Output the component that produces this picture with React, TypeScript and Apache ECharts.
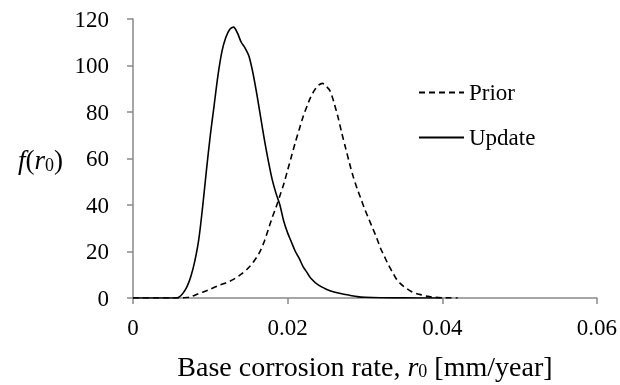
import React, { useEffect, useRef } from "react";
import * as echarts from "echarts";

const xTicks = [0, 0.02, 0.04, 0.06];
const yTicks = [0, 20, 40, 60, 80, 100, 120];

const updateX = [0, 0.0055, 0.006, 0.0065, 0.007, 0.0075, 0.008, 0.0085, 0.009, 0.0095, 0.01, 0.0105, 0.011, 0.0115, 0.012, 0.0125, 0.013, 0.0135, 0.014, 0.0145, 0.015, 0.0155, 0.016, 0.0165, 0.017, 0.0175, 0.018, 0.0185, 0.019, 0.0195, 0.02, 0.0205, 0.021, 0.0215, 0.022, 0.0225, 0.023, 0.024, 0.025, 0.026, 0.027, 0.028, 0.029, 0.03, 0.032, 0.035, 0.04];
const updateY = [0, 0, 0.5, 2.2, 5, 9.5, 16, 25, 39, 55, 70, 83, 96, 106, 112, 115.5, 116.5, 114, 110, 107.5, 104, 97, 88, 78, 68, 59, 51, 45, 40, 33, 28, 24, 20, 17, 13.5, 11, 8.5, 5.5, 3.8, 2.6, 1.8, 1.2, 0.6, 0.3, 0.1, 0.05, 0];

const priorX = [0, 0.006, 0.007, 0.0075, 0.008, 0.009, 0.01, 0.011, 0.012, 0.013, 0.014, 0.015, 0.016, 0.0165, 0.017, 0.0175, 0.018, 0.0185, 0.019, 0.0195, 0.02, 0.0205, 0.021, 0.0215, 0.022, 0.0225, 0.023, 0.0235, 0.024, 0.0245, 0.025, 0.0255, 0.026, 0.0265, 0.027, 0.0275, 0.028, 0.0285, 0.029, 0.0295, 0.03, 0.0305, 0.031, 0.0315, 0.032, 0.0325, 0.033, 0.0335, 0.034, 0.0345, 0.035, 0.036, 0.037, 0.038, 0.039, 0.04, 0.042];
const priorY = [0, 0, 0.2, 0.5, 1.2, 2.5, 3.8, 5.3, 6.5, 8, 10.3, 13.2, 17.5, 20.5, 24.5, 29.5, 34.5, 39, 44, 49, 55, 61, 67, 72.5, 78, 82.5, 86.5, 89.5, 91.5, 92.3, 91, 89, 84, 78, 71, 64.5, 58, 52, 47, 42.5, 38, 34, 30, 26, 21.5, 18, 14.5, 11.5, 8.5, 6.5, 5, 2.8, 1.6, 0.8, 0.3, 0.1, 0];

const FONT = '"Liberation Serif", "Times New Roman", serif';

export default function App() {
  const ref = useRef<HTMLDivElement>(null);
  useEffect(() => {
    if (!ref.current) return;
    const chart = echarts.init(ref.current, undefined, { renderer: "svg" });
    const axisLine = { show: true, lineStyle: { color: "#898989", width: 1.5 } };
    const legendBase = {
      left: 418,
      padding: 0,
      itemWidth: 45,
      itemHeight: 14,
      itemGap: 5,
      itemStyle: { opacity: 0 },
      textStyle: { fontFamily: FONT, fontSize: 23, color: "#000", padding: [0, 0, 0, 0] },
    };
    const subStyle = { fontFamily: FONT, fontSize: 18, color: "#000", verticalAlign: "bottom", lineHeight: 18, padding: [14, 0, 0, 0] };
    chart.setOption({
      animation: false,
      textStyle: { fontFamily: FONT },
      grid: { left: 133, right: 23, top: 19, bottom: 87, containLabel: false },
      legend: [
        { ...legendBase, data: ["Prior"], top: 81 },
        { ...legendBase, data: ["Update"], top: 126 },
      ],
      xAxis: {
        type: "value",
        min: xTicks[0],
        max: xTicks[xTicks.length - 1],
        interval: 0.02,
        axisLine,
        axisTick: { show: true, length: 6, lineStyle: { color: "#898989", width: 1.5 } },
        splitLine: { show: false },
        axisLabel: {
          margin: 18,
          fontSize: 23,
          color: "#000",
          fontFamily: FONT,
          formatter: (v: number) => String(+v.toFixed(4)),
        },
        name: "{n|Base corrosion rate, }{it|r}{sub|0}{n| [mm/year]}",
        nameLocation: "middle",
        nameGap: 52,
        nameTextStyle: {
          fontFamily: FONT,
          fontSize: 28,
          color: "#000",
          rich: {
            n: { fontFamily: FONT, fontSize: 28, color: "#000", lineHeight: 30, verticalAlign: "bottom" },
            it: { fontFamily: FONT, fontSize: 28, fontStyle: "italic", color: "#000", lineHeight: 30, verticalAlign: "bottom" },
            sub: subStyle,
          },
        },
      },
      yAxis: {
        type: "value",
        min: yTicks[0],
        max: yTicks[yTicks.length - 1],
        interval: 20,
        axisLine,
        axisTick: { show: true, length: 6, lineStyle: { color: "#898989", width: 1.5 } },
        splitLine: { show: false },
        axisLabel: { margin: 24, fontSize: 23, color: "#000", fontFamily: FONT },
        name: "{it|f}{n|(}{it|r}{sub|0}{n|)}",
        nameLocation: "middle",
        nameRotate: 0,
        nameGap: 70,
        nameTextStyle: {
          fontFamily: FONT,
          fontSize: 27,
          color: "#000",
          rich: {
            it: { fontFamily: FONT, fontSize: 27, fontStyle: "italic", color: "#000", lineHeight: 30, verticalAlign: "bottom" },
            n: { fontFamily: FONT, fontSize: 27, color: "#000", lineHeight: 30, verticalAlign: "bottom" },
            sub: subStyle,
          },
        },
      },
      series: [
        {
          name: "Prior",
          type: "line",
          data: priorX.map((x, i) => [x, priorY[i]]),
          symbol: "none",
          smooth: 0.3,
          lineStyle: { color: "#000", width: 1.6, type: [6, 4] },
          itemStyle: { color: "#000" },
        },
        {
          name: "Update",
          type: "line",
          data: updateX.map((x, i) => [x, updateY[i]]),
          symbol: "none",
          smooth: 0.3,
          lineStyle: { color: "#000", width: 1.6, type: "solid" },
          itemStyle: { color: "#000" },
        },
      ],
    });
    return () => chart.dispose();
  }, []);
  return <div ref={ref} style={{ position: "fixed", left: 0, top: 0, width: 620, height: 385 }} />;
}
